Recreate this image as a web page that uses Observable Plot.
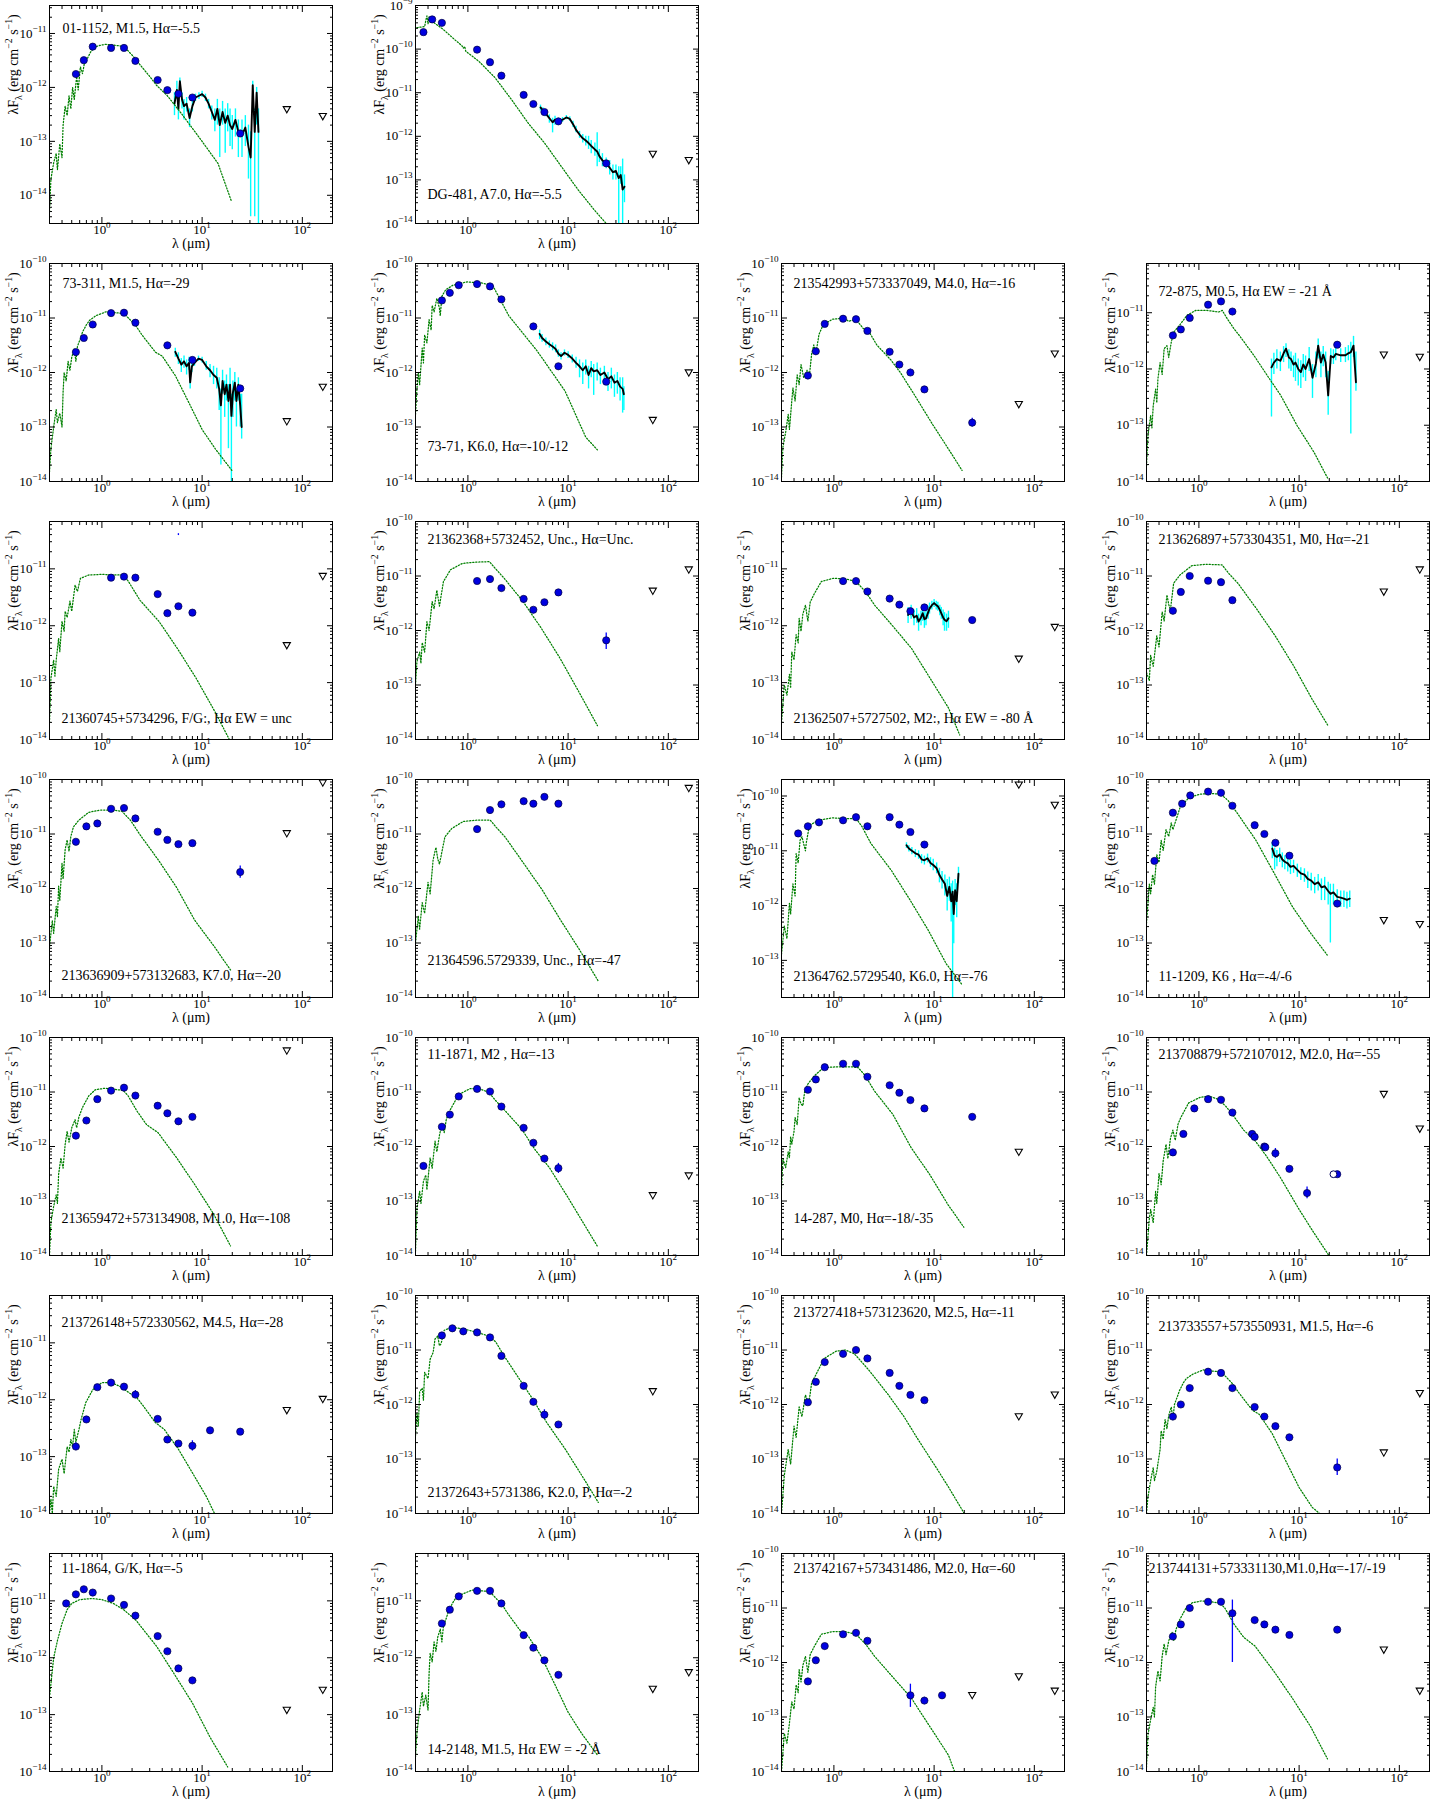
<!DOCTYPE html>
<html><head><meta charset="utf-8">
<script src="https://cdn.jsdelivr.net/npm/d3@7"></script>
<script src="https://cdn.jsdelivr.net/npm/@observablehq/plot@0.6"></script>
<style>
html,body{margin:0;padding:0;background:#fff}
body{width:1448px;height:1809px;position:relative;overflow:hidden}
</style></head><body>
<script>
// ---------------- DATA ----------------
const panelLabels = [
 "01-1152, M1.5, Hα=-5.5","DG-481, A7.0, Hα=-5.5",
 "73-311, M1.5, Hα=-29","73-71, K6.0, Hα=-10/-12","213542993+573337049, M4.0, Hα=-16","72-875, M0.5, Hα EW = -21 Å",
 "21360745+5734296, F/G:, Hα EW = unc","21362368+5732452, Unc., Hα=Unc.","21362507+5727502, M2:, Hα EW = -80 Å","213626897+573304351, M0, Hα=-21",
 "213636909+573132683, K7.0, Hα=-20","21364596.5729339, Unc., Hα=-47","21364762.5729540, K6.0, Hα=-76","11-1209, K6 , Hα=-4/-6",
 "213659472+573134908, M1.0, Hα=-108","11-1871, M2 , Hα=-13","14-287, M0, Hα=-18/-35","213708879+572107012, M2.0, Hα=-55",
 "213726148+572330562, M4.5, Hα=-28","21372643+5731386, K2.0, P, Hα=-2","213727418+573123620, M2.5, Hα=-11","213733557+573550931, M1.5, Hα=-6",
 "11-1864, G/K, Hα=-5","14-2148, M1.5, Hα EW = -2 Å","213742167+573431486, M2.0, Hα=-60","213744131+573331130,M1.0,Hα=-17/-19"
];
const yDomains = [
 [3e-15,3.3e-11],[1e-14,1e-9],
 [1e-14,1e-10],[1e-14,1e-10],[1e-14,1e-10],[1e-14,7.5e-11],
 [1e-14,6.8e-11],[1e-14,1e-10],[1e-14,6.8e-11],[1e-14,1e-10],
 [1e-14,1e-10],[1e-14,1e-10],[2.1e-14,2.0e-10],[1e-14,1e-10],
 [1e-14,1e-10],[1e-14,1e-10],[1e-14,1e-10],[1e-14,1e-10],
 [1e-14,6.8e-11],[1e-14,1e-10],[1e-14,1e-10],[1e-14,1e-10],
 [1e-14,6.8e-11],[1e-14,6.8e-11],[1e-14,1e-10],[1e-14,1e-10]
];
const xTicksMajor = [1, 10, 100];
const xDomain = [0.3, 200];

// photometry: [lambda (um), lambda*F_lambda]
const photometry = [
 [[0.55,1.77e-12],[0.66,3.2e-12],[0.81,5.7e-12],[1.235,5.4e-12],[1.662,5.4e-12],[2.159,3.1e-12],[3.6,1.37e-12],[4.5,8.9e-13],[5.8,7.6e-13],[8.0,6.5e-13],[24,1.4e-13]],
 [[0.36,2.45e-10],[0.44,4.8e-10],[0.55,4e-10],[1.235,9.7e-11],[1.662,5e-11],[2.159,2.46e-11],[3.6,8.9e-12],[4.5,5.5e-12],[5.8,3.6e-12],[8.0,2.2e-12],[24,2.4e-13]],
 [[0.55,2.37e-12],[0.66,4.3e-12],[0.81,7.6e-12],[1.235,1.23e-11],[1.662,1.25e-11],[2.159,8.2e-12],[4.5,3.15e-12],[8.0,1.7e-12],[24,5.1e-13]],
 [[0.55,2.1e-11],[0.66,2.9e-11],[0.81,4.0e-11],[1.235,4.2e-11],[1.662,3.8e-11],[2.159,2.2e-11],[4.5,7e-12],[8.0,1.3e-12],[24,6.8e-13]],
 [[0.55,8.8e-13],[0.66,2.45e-12],[0.81,7.8e-12],[1.235,9.7e-12],[1.662,9.5e-12],[2.159,5.8e-12],[3.6,2.4e-12],[4.5,1.4e-12],[5.8,1e-12],[8.0,4.9e-13],[24,1.2e-13]],
 [[0.55,3.95e-12],[0.66,5.05e-12],[0.81,8.1e-12],[1.235,1.39e-11],[1.662,1.59e-11],[2.159,1.05e-11],[24,2.7e-12]],
 [[1.235,7.0e-12],[1.662,7.3e-12],[2.159,7.0e-12],[3.6,3.6e-12],[4.5,1.66e-12],[5.8,2.2e-12],[8.0,1.7e-12]],
 [[1.235,8.1e-12],[1.662,8.8e-12],[2.159,6e-12],[3.6,3.8e-12],[4.5,2.4e-12],[5.8,3.3e-12],[8.0,5e-12],[24,6.6e-13]],
 [[1.235,6.1e-12],[1.662,6.1e-12],[2.159,4.0e-12],[3.6,3.0e-12],[4.5,2.35e-12],[5.8,1.8e-12],[8.0,2.1e-12],[24,1.26e-12]],
 [[0.55,2.3e-12],[0.66,5.1e-12],[0.81,1e-11],[1.235,8.2e-12],[1.662,7.7e-12],[2.159,3.6e-12]],
 [[0.55,7.2e-12],[0.70,1.38e-11],[0.90,1.56e-11],[1.235,2.9e-11],[1.662,3.0e-11],[2.159,1.93e-11],[3.6,1.1e-11],[4.5,7.8e-12],[5.8,6.5e-12],[8.0,6.8e-12],[24,2.0e-12]],
 [[1.235,1.23e-11],[1.662,2.75e-11],[2.159,3.5e-11],[3.6,4.0e-11],[4.5,3.6e-11],[5.8,4.8e-11],[8.0,3.6e-11]],
 [[0.44,2.07e-11],[0.55,2.8e-11],[0.71,3.3e-11],[1.235,3.6e-11],[1.662,4.1e-11],[2.159,2.8e-11],[3.6,4.1e-11],[4.5,3e-11],[5.8,2.2e-11],[8.0,1.3e-11]],
 [[0.36,3.2e-12],[0.55,2.46e-11],[0.68,3.6e-11],[0.82,5.1e-11],[1.235,6.0e-11],[1.662,5.7e-11],[2.159,3.3e-11],[3.6,1.45e-11],[4.5,1.0e-11],[5.8,6.9e-12],[8.0,4e-12],[24,5.3e-13]],
 [[0.55,1.58e-12],[0.70,3.0e-12],[0.90,7.4e-12],[1.235,1.06e-11],[1.662,1.2e-11],[2.159,8.6e-12],[3.6,5.6e-12],[4.5,4.07e-12],[5.8,2.9e-12],[8.0,3.5e-12]],
 [[0.36,4.4e-13],[0.55,2.3e-12],[0.66,3.85e-12],[0.81,8.3e-12],[1.235,1.14e-11],[1.662,1.02e-11],[2.159,5.4e-12],[3.6,2.2e-12],[4.5,1.17e-12],[5.8,6e-13],[8.0,4e-13]],
 [[0.55,1.1e-11],[0.66,1.7e-11],[0.81,2.85e-11],[1.235,3.3e-11],[1.662,3.3e-11],[2.159,1.9e-11],[3.6,1.33e-11],[4.5,9.7e-12],[5.8,7.1e-12],[8.0,5.0e-12],[24,3.5e-12]],
 [[0.55,7.8e-13],[0.70,1.7e-12],[0.90,5e-12],[1.235,7.4e-12],[1.662,7.2e-12],[2.159,4.2e-12],[3.4,1.7e-12],[3.6,1.5e-12],[4.5,1e-12],[4.6,9.7e-13],[5.8,7.5e-13],[8.0,3.9e-13],[12,1.4e-13],[24,3.1e-13]],
 [[0.55,1.5e-13],[0.70,4.5e-13],[0.90,1.66e-12],[1.235,2.0e-12],[1.662,1.7e-12],[2.159,1.23e-12],[3.6,4.6e-13],[4.5,2e-13],[5.8,1.7e-13],[8.0,1.55e-13],[12,2.9e-13],[24,2.75e-13]],
 [[0.55,1.85e-11],[0.70,2.5e-11],[0.90,2.2e-11],[1.235,2.1e-11],[1.662,1.7e-11],[2.159,7.8e-12],[3.6,2.2e-12],[4.5,1.12e-12],[5.8,6.5e-13],[8.0,4.3e-13]],
 [[0.55,1.1e-12],[0.66,2.6e-12],[0.81,6e-12],[1.235,8.5e-12],[1.662,1e-11],[2.159,7e-12],[3.6,3.8e-12],[4.5,2.2e-12],[5.8,1.5e-12],[8.0,1.2e-12]],
 [[0.55,6e-13],[0.66,1e-12],[0.81,2e-12],[1.235,4e-12],[1.662,3.8e-12],[2.159,2e-12],[3.6,9e-13],[4.5,6e-13],[5.8,4e-13],[8.0,2.5e-13],[24,7e-14]],
 [[0.44,9e-12],[0.55,1.3e-11],[0.66,1.6e-11],[0.81,1.4e-11],[1.235,1.1e-11],[1.662,8.5e-12],[2.159,5.5e-12],[3.6,2.4e-12],[4.5,1.3e-12],[5.8,6.5e-13],[8.0,4e-13]],
 [[0.55,4e-12],[0.66,7e-12],[0.81,1.2e-11],[1.235,1.5e-11],[1.662,1.5e-11],[2.159,9e-12],[3.6,2.5e-12],[4.5,1.5e-12],[5.8,9e-13],[8.0,5e-13]],
 [[0.55,4.5e-13],[0.66,1.1e-12],[0.81,2e-12],[1.235,3.3e-12],[1.662,3.5e-12],[2.159,2.5e-12],[5.8,2.5e-13],[8.0,2e-13],[12,2.5e-13]],
 [[0.55,3e-12],[0.66,5e-12],[0.81,1e-11],[1.235,1.3e-11],[1.662,1.3e-11],[2.159,8e-12],[3.6,6e-12],[4.5,5e-12],[5.8,4e-12],[8.0,3.2e-12],[24,4e-12]]
];
// photometric error bars: [lambda, low, high]
const photErrors = [
 [],[],[],[],[[5.8,8.6e-13,1.15e-12],[24,1.0e-13,1.45e-13]],[],
 [[5.8,3.85e-11,4.15e-11]],[[24,4.5e-13,9e-13]],[],[],
 [[24,1.55e-12,2.6e-12]],[],[],[],
 [],[[8.0,3.2e-13,4.9e-13]],[],[[5.8,6.1e-13,9.2e-13],[12,1.1e-13,1.8e-13],[24,2.8e-13,3.4e-13]],
 [[0.55,1.3e-13,1.75e-13],[1.662,1.55e-12,1.85e-12],[2.159,1.05e-12,1.45e-12],[8.0,1.25e-13,1.9e-13]],[[5.8,5.3e-13,8e-13]],[],[[24,5e-14,1e-13]],
 [],[],[[5.8,1.5e-13,4e-13],[8.0,1.7e-13,2.3e-13]],[[2.159,1e-12,1.4e-11]]
];
// open symbols: [lambda, flux]
const openPoints = [
 [],[],[],[],[],[],[],[],[],[],[],[],[],[],[],[],[],[[22,3.1e-13]],[],[],[],[],[],[],[],[]
];
// upper limits (downward triangles): [lambda, flux]
const upperLimits = [
 [[70,3.9e-13],[160,2.9e-13]],[[70,3.9e-13],[160,2.8e-13]],
 [[70,1.26e-13],[160,5.4e-13]],[[70,1.33e-13],[160,9.9e-13]],[[70,2.6e-13],[160,2.2e-12]],[[70,1.78e-12],[160,1.62e-12]],
 [[70,4.5e-13],[160,7.4e-12]],[[70,5.3e-12],[160,1.3e-11]],[[70,2.6e-13],[160,9.4e-13]],[[70,5.1e-12],[160,1.3e-11]],
 [[70,1.02e-11],[160,8.7e-11]],[[160,6.9e-11]],[[70,1.6e-10],[160,6.8e-11]],[[70,2.6e-13],[160,2.2e-13]],
 [[70,5.7e-11]],[[70,1.26e-13],[160,2.9e-13]],[[70,7.9e-13]],[[70,9.1e-12],[160,2.1e-12]],
 [[70,6.5e-13],[160,1.02e-12]],[[70,1.73e-12]],[[70,6e-13],[160,1.5e-12]],[[70,1.3e-13],[160,1.6e-12]],
 [[70,1.2e-13],[160,2.7e-13]],[[70,2.8e-13],[160,5.5e-13]],[[24,2.5e-13],[70,5.5e-13],[160,3e-13]],[[70,1.7e-12],[160,3e-13]]
];
// photosphere models: [lambda, flux]
const models = [
 [[0.30,5e-15],[0.31,2e-14],[0.33,4e-14],[0.35,6e-14],[0.36,3e-14],[0.38,9e-14],[0.40,5e-14],[0.41,2e-13],[0.43,4.5e-13],[0.45,3e-13],[0.47,7e-13],[0.49,4e-13],[0.51,1e-12],[0.53,6e-13],[0.56,1.6e-12],[0.58,9e-13],[0.61,2.4e-12],[0.64,1.8e-12],[0.68,3.3e-12],[0.72,3.5e-12],[0.77,4.5e-12],[0.85,5.6e-12],[0.95,6.0e-12],[1.1,6.3e-12],[1.3,6.1e-12],[1.5,5.9e-12],[1.7,5.5e-12],[1.9,4.4e-12],[2.1,3.6e-12],[2.5,2.4e-12],[3.0,1.6e-12],[3.5,1.1e-12],[4.5,7e-13],[6.2,3.3e-13],[9.8,1.05e-13],[14.4,3.9e-14],[19.5,8e-15]],
 [[0.31,3.1e-10],[0.37,3.3e-10],[0.38,4.5e-10],[0.39,5.8e-10],[0.40,3.8e-10],[0.41,5.5e-10],[0.42,4.7e-10],[0.46,4e-10],[0.57,2.8e-10],[0.75,1.6e-10],[0.87,1.2e-10],[0.9,1.05e-10],[0.93,1.15e-10],[0.95,9e-11],[1.28,5.3e-11],[1.87,2.2e-11],[2.73,6.9e-12],[4.0,2e-12],[5.85,6.9e-13],[8.6,2e-13],[12.6,5.9e-14],[18.4,2e-14],[24,1e-14]],
 [[0.30,1.5e-14],[0.31,4e-14],[0.33,1e-13],[0.35,2.1e-13],[0.36,1.2e-13],[0.38,1.8e-13],[0.40,1e-13],[0.41,4.4e-13],[0.42,1e-12],[0.44,7e-13],[0.46,1.6e-12],[0.48,1.1e-12],[0.50,1.9e-12],[0.53,2.7e-12],[0.55,1.6e-12],[0.57,3e-12],[0.61,4.2e-12],[0.64,5.5e-12],[0.7,7.5e-12],[0.75,9e-12],[0.87,1.1e-11],[1.1,1.3e-11],[1.38,1.25e-11],[1.66,1.2e-11],[1.87,9.7e-12],[2.17,7.3e-12],[2.53,4.8e-12],[3.43,2.35e-12],[4.0,2e-12],[5.4,8.8e-13],[7.37,2.8e-13],[10,9e-14],[13.5,4e-14],[19.8,1.6e-14]],
 [[0.30,1.7e-13],[0.31,5e-13],[0.32,1e-12],[0.33,6e-13],[0.35,2.8e-12],[0.36,1.5e-12],[0.37,4.9e-12],[0.39,3.5e-12],[0.41,9.3e-12],[0.43,6e-12],[0.44,1.7e-11],[0.46,1.3e-11],[0.49,2.3e-11],[0.52,1.5e-11],[0.53,1.1e-11],[0.55,2.5e-11],[0.6,3.3e-11],[0.71,4.0e-11],[0.98,4.6e-11],[1.35,4.4e-11],[1.76,4.0e-11],[2.07,2.3e-11],[2.56,1.1e-11],[4.9,2.5e-12],[9.3,4.6e-13],[15,6.5e-14],[19.6,3.8e-14]],
 [[0.30,1.2e-14],[0.31,4.3e-14],[0.33,8e-14],[0.35,1.7e-13],[0.36,9e-14],[0.38,3e-13],[0.39,5.2e-13],[0.41,3e-13],[0.43,9e-13],[0.45,6e-13],[0.47,1.4e-12],[0.50,8e-13],[0.54,1.1e-12],[0.57,9e-13],[0.60,2.2e-12],[0.63,3.2e-12],[0.66,2.2e-12],[0.71,5e-12],[0.78,7.5e-12],[0.97,9.5e-12],[1.27,1e-11],[1.4,8.7e-12],[1.66,9.5e-12],[1.95,6.5e-12],[2.28,5.3e-12],[2.68,3.2e-12],[3.7,1.7e-12],[4.6,1e-12],[6.3,4e-13],[9.7,1.1e-13],[13.5,4.3e-14],[19,1.6e-14]],
 [[0.30,1.9e-14],[0.31,6.5e-14],[0.33,1.5e-13],[0.34,9e-14],[0.35,2.2e-13],[0.37,4.4e-13],[0.38,2.5e-13],[0.39,6.7e-13],[0.41,1.3e-12],[0.43,8e-13],[0.45,2.3e-12],[0.48,2.6e-12],[0.5,1.6e-12],[0.53,3e-12],[0.56,4.5e-12],[0.66,6.4e-12],[0.76,9e-12],[0.93,1.1e-11],[1.21,1.1e-11],[1.58,1.03e-11],[1.71,1.1e-11],[1.92,7.8e-12],[2.24,5.2e-12],[2.6,3.7e-12],[3.55,1.73e-12],[4.82,7.6e-13],[6.55,3.4e-13],[9.6,9.7e-14],[14.1,3.3e-14],[19.5,1.1e-14]],
 [[0.30,2e-14],[0.31,1.2e-13],[0.33,2.5e-13],[0.34,1.3e-13],[0.35,2.5e-13],[0.37,6e-13],[0.38,3.5e-13],[0.40,1.2e-12],[0.42,8e-13],[0.43,1.8e-12],[0.45,1.4e-12],[0.48,2.7e-12],[0.50,1.8e-12],[0.54,5.2e-12],[0.57,4e-12],[0.61,6.8e-12],[0.74,7.8e-12],[1.02,8e-12],[1.33,7.8e-12],[1.65,7.8e-12],[1.84,6e-12],[2.4,2.8e-12],[3.7,1.2e-12],[5.66,4e-13],[8.7,1.2e-13],[13.4,3.1e-14],[18.7,1e-14]],
 [[0.30,1e-13],[0.31,2.7e-13],[0.33,4e-13],[0.34,2.5e-13],[0.35,6e-13],[0.37,4e-13],[0.39,1.45e-12],[0.41,1e-12],[0.44,3.4e-12],[0.46,2.5e-12],[0.49,5.5e-12],[0.51,3.5e-12],[0.52,2.8e-12],[0.57,7.9e-12],[0.67,1.3e-11],[0.88,1.7e-11],[1.2,1.8e-11],[1.64,1.83e-11],[1.86,1.4e-11],[2.3,9.1e-12],[3.55,3.4e-12],[5.4,1.1e-12],[8.3,3.1e-13],[12.8,7.5e-14],[19.6,1.8e-14]],
 [[0.30,2e-14],[0.32,9.1e-14],[0.34,6e-14],[0.36,1.4e-13],[0.37,8e-14],[0.38,3.5e-13],[0.40,2.5e-13],[0.42,7e-13],[0.44,5e-13],[0.45,1.35e-12],[0.47,8e-13],[0.49,1.6e-12],[0.52,2.3e-12],[0.55,1.2e-12],[0.58,2.6e-12],[0.64,3.7e-12],[0.75,6e-12],[0.98,6.8e-12],[1.28,6.7e-12],[1.66,6e-12],[2.06,4e-12],[2.55,2.3e-12],[3.9,9.7e-13],[5.95,4e-13],[9.1,1.2e-13],[13.9,3.6e-14],[18,1.2e-14]],
 [[0.30,1.7e-13],[0.32,1.2e-13],[0.33,3.5e-13],[0.35,2.2e-13],[0.38,8e-13],[0.40,5e-13],[0.43,2.2e-12],[0.45,1.5e-12],[0.48,4.5e-12],[0.5,3e-12],[0.52,2.4e-12],[0.56,7.4e-12],[0.65,1.05e-11],[0.85,1.55e-11],[1.17,1.64e-11],[1.7,1.6e-11],[2.0,1.1e-11],[2.46,7.3e-12],[3.76,2.5e-12],[5.74,8.1e-13],[8.75,2.3e-13],[13.4,5.6e-14],[19.4,1.8e-14]],
 [[0.30,8.5e-14],[0.32,2.6e-13],[0.33,1.5e-13],[0.35,4.7e-13],[0.36,3e-13],[0.37,1.1e-12],[0.38,6e-13],[0.40,2.9e-12],[0.41,1.5e-12],[0.43,5.2e-12],[0.45,7.8e-12],[0.47,4.8e-12],[0.49,9e-12],[0.52,1.35e-11],[0.59,1.8e-11],[0.74,2.5e-11],[0.96,2.75e-11],[1.32,2.75e-11],[1.59,2.6e-11],[1.92,1.8e-11],[2.37,1e-11],[3.63,3.4e-12],[5.57,1.04e-12],[8.45,2.6e-13],[13,9e-14],[19.2,3.2e-14]],
 [[0.30,1e-13],[0.32,3.1e-13],[0.33,1.8e-13],[0.35,5.5e-13],[0.37,3.5e-13],[0.40,1.3e-12],[0.42,8e-13],[0.45,3.4e-12],[0.48,5.7e-12],[0.50,3.5e-12],[0.52,2.8e-12],[0.59,8.9e-12],[0.69,1.26e-11],[0.9,1.7e-11],[1.24,1.8e-11],[1.67,1.8e-11],[1.9,1.35e-11],[2.35,8.8e-12],[3.6,2.9e-12],[5.5,9.5e-13],[8.45,2.6e-13],[13,7.5e-14],[20,2e-14]],
 [[0.30,1.3e-13],[0.32,4.2e-13],[0.34,2.5e-13],[0.36,1.1e-12],[0.37,7e-13],[0.39,2.5e-12],[0.41,1.5e-12],[0.42,8.9e-12],[0.44,6e-12],[0.46,1.57e-11],[0.48,1.8e-11],[0.52,1e-11],[0.53,1.4e-11],[0.57,2.9e-11],[0.70,3.6e-11],[0.96,4e-11],[1.32,3.85e-11],[1.66,3.9e-11],[1.9,2.8e-11],[2.34,1.36e-11],[3.74,4.4e-12],[5.76,1.26e-12],[8.7,3.6e-13],[13.2,8.7e-14],[19.2,3.5e-14]],
 [[0.30,2.3e-13],[0.32,1.2e-12],[0.33,8e-13],[0.345,1.8e-12],[0.36,1.2e-12],[0.38,4.2e-12],[0.40,3e-12],[0.42,7.6e-12],[0.44,5e-12],[0.47,1.2e-11],[0.50,9e-12],[0.53,1.6e-11],[0.55,1.2e-11],[0.65,3.1e-11],[0.80,4.7e-11],[1.04,5.4e-11],[1.43,5.5e-11],[1.67,5.3e-11],[1.96,4.1e-11],[2.42,2.4e-11],[3.7,7.7e-12],[5.65,1.9e-12],[8.6,4.6e-13],[13.1,1.5e-13],[19.1,6e-14]],
 [[0.30,1e-14],[0.31,4.1e-14],[0.33,8e-14],[0.35,1.3e-13],[0.36,9e-14],[0.37,3.1e-13],[0.39,6.2e-13],[0.41,4e-13],[0.43,1.1e-12],[0.45,1.9e-12],[0.47,1.2e-12],[0.50,2.2e-12],[0.54,3.1e-12],[0.56,2.2e-12],[0.59,3.5e-12],[0.64,5.2e-12],[0.74,8.5e-12],[0.86,1.1e-11],[1.07,1.17e-11],[1.32,1.12e-11],[1.63,1.07e-11],[1.82,8.6e-12],[2.25,4.4e-12],[2.8,2.5e-12],[3.63,1.8e-12],[5.57,6.2e-13],[8.45,2e-13],[13,5.8e-14],[19.2,1.5e-14]],
 [[0.30,1.2e-14],[0.31,7.2e-14],[0.33,1.5e-13],[0.34,9e-14],[0.36,2.3e-13],[0.38,3e-13],[0.39,1.6e-13],[0.42,6.2e-13],[0.44,4e-13],[0.47,1.25e-12],[0.49,8e-13],[0.52,1.6e-12],[0.55,2.6e-12],[0.58,1.8e-12],[0.61,3.2e-12],[0.67,4.8e-12],[0.81,9e-12],[1.05,1.15e-11],[1.3,1.15e-11],[1.62,9.8e-12],[1.9,6.9e-12],[2.36,4.5e-12],[3.43,2.1e-12],[4.73,8.5e-13],[6.5,4.1e-13],[10,1.15e-13],[13.8,4.3e-14],[19.5,1.5e-14]],
 [[0.30,1.7e-13],[0.31,6e-13],[0.33,4.1e-13],[0.35,8e-13],[0.36,6.2e-13],[0.37,1.5e-12],[0.38,1.1e-12],[0.40,1.9e-12],[0.41,3.4e-12],[0.43,2.5e-12],[0.45,7.9e-12],[0.47,6e-12],[0.49,5.6e-12],[0.51,1e-11],[0.55,1.4e-11],[0.64,2e-11],[0.79,2.8e-11],[1.09,2.9e-11],[1.5,2.9e-11],[1.75,2.8e-11],[2.05,2e-11],[2.54,1.04e-11],[3.87,3.9e-12],[5.9,9.5e-13],[9.0,3.1e-13],[13.8,8.5e-14],[19.8,3.3e-14]],
 [[0.30,1e-14],[0.32,4.7e-14],[0.33,7e-14],[0.35,4e-14],[0.37,1.5e-13],[0.38,9e-14],[0.40,3.2e-13],[0.42,2e-13],[0.44,5.4e-13],[0.47,1.1e-12],[0.49,6e-13],[0.52,1.4e-12],[0.55,2e-12],[0.58,1.3e-12],[0.62,2.6e-12],[0.66,3.4e-12],[0.79,6.3e-12],[1.03,8e-12],[1.27,8.4e-12],[1.57,7.3e-12],[1.85,5.5e-12],[2.16,3.9e-12],[2.8,2e-12],[3.67,1.25e-12],[4.76,6.5e-13],[6.5,2.7e-13],[10,7e-14],[13.7,2.8e-14],[19.8,1e-14]],
 [[0.30,1e-14],[0.31,1.8e-14],[0.32,1e-14],[0.33,3e-14],[0.35,2e-14],[0.37,6e-14],[0.40,9e-14],[0.42,5e-14],[0.45,1.5e-13],[0.47,1.2e-13],[0.49,2e-13],[0.51,1.5e-13],[0.53,3e-13],[0.55,1.8e-13],[0.59,3e-13],[0.62,4.5e-13],[0.69,8.9e-13],[0.81,1.5e-12],[1.0,2e-12],[1.24,2.0e-12],[1.53,1.7e-12],[1.9,1.3e-12],[2.22,1.1e-12],[2.6,7.7e-13],[3.4,4e-13],[4.2,3e-13],[5.8,1.35e-13],[8.0,5.2e-14],[11,2e-14],[13.3,1e-14]],
 [[0.30,2.7e-13],[0.31,7e-13],[0.32,4e-13],[0.33,1.7e-12],[0.35,2e-12],[0.36,1.2e-12],[0.37,3.9e-12],[0.40,3e-12],[0.42,6.8e-12],[0.45,9e-12],[0.47,1.6e-11],[0.50,1.8e-11],[0.52,1.2e-11],[0.54,1.3e-11],[0.58,2.3e-11],[0.69,2.6e-11],[0.90,2.45e-11],[1.24,2.1e-11],[1.62,1.8e-11],[1.9,1.4e-11],[2.23,8.5e-12],[3.24,3e-12],[4.45,1.25e-12],[6.1,4.7e-13],[9.4,1.5e-13],[14.4,4.3e-14],[20,1.6e-14]],
 [[0.30,1e-14],[0.32,5e-14],[0.35,1.5e-13],[0.37,8e-14],[0.40,4e-13],[0.42,2.5e-13],[0.45,9e-13],[0.48,6e-13],[0.52,1.5e-12],[0.56,1e-12],[0.6,2.5e-12],[0.66,3.5e-12],[0.8,7e-12],[1.05,9.5e-12],[1.3,1e-11],[1.6,8.5e-12],[1.9,6e-12],[2.3,4e-12],[3.5,1.5e-12],[5,6e-13],[7,2.2e-13],[10,8e-14],[14,3e-14],[20,1e-14]],
 [[0.30,1e-14],[0.31,2e-14],[0.33,4e-14],[0.35,7e-14],[0.36,4e-14],[0.38,6e-14],[0.41,1.5e-13],[0.42,3.3e-13],[0.44,2.3e-13],[0.46,5.3e-13],[0.48,3.6e-13],[0.50,6.3e-13],[0.53,9e-13],[0.55,5.3e-13],[0.57,1e-12],[0.61,1.4e-12],[0.64,1.8e-12],[0.7,2.5e-12],[0.75,3e-12],[0.87,3.6e-12],[1.1,4.3e-12],[1.38,4.1e-12],[1.66,4e-12],[1.87,3.2e-12],[2.17,2.4e-12],[2.53,1.6e-12],[3.43,7.8e-13],[4.0,6.6e-13],[5.4,2.9e-13],[7.37,9.2e-14],[10,3e-14],[13.5,1.3e-14],[16,1e-14]],
 [[0.30,2e-13],[0.33,1e-12],[0.36,2e-12],[0.40,4e-12],[0.45,7e-12],[0.50,9e-12],[0.6,1.05e-11],[0.8,1.1e-11],[1.0,1.05e-11],[1.3,9e-12],[1.65,7e-12],[2.2,4.5e-12],[3.5,1.6e-12],[5,6e-13],[8,1.6e-13],[12,4e-14],[18,1.2e-14]],
 [[0.30,1.8e-14],[0.31,4.8e-14],[0.33,1.2e-13],[0.35,2.5e-13],[0.36,1.4e-13],[0.38,2.2e-13],[0.40,1.2e-13],[0.41,5.3e-13],[0.42,1.2e-12],[0.44,8.4e-13],[0.46,1.9e-12],[0.48,1.3e-12],[0.50,2.3e-12],[0.53,3.2e-12],[0.55,1.9e-12],[0.57,3.6e-12],[0.61,5e-12],[0.64,6.6e-12],[0.7,9e-12],[0.75,1.1e-11],[0.87,1.3e-11],[1.1,1.55e-11],[1.38,1.5e-11],[1.66,1.45e-11],[1.87,1.15e-11],[2.17,8.8e-12],[2.53,5.8e-12],[3.43,2.8e-12],[4.0,2.4e-12],[5.4,1.05e-12],[7.37,3.4e-13],[10,1.1e-13],[13.5,4.8e-14],[19.8,1.9e-14]],
 [[0.30,1e-14],[0.32,5e-14],[0.34,3.3e-14],[0.36,7.7e-14],[0.38,1.9e-13],[0.40,1.4e-13],[0.42,3.9e-13],[0.44,2.8e-13],[0.45,7.4e-13],[0.47,4.4e-13],[0.49,8.8e-13],[0.52,1.3e-12],[0.55,6.6e-13],[0.58,1.4e-12],[0.64,2e-12],[0.75,3.3e-12],[0.98,3.7e-12],[1.28,3.7e-12],[1.66,3.3e-12],[2.06,2.2e-12],[2.55,1.3e-12],[3.9,5.3e-13],[5.95,2.2e-13],[9.1,6.6e-14],[13.9,2e-14],[16,1e-14]],
 [[0.30,1.2e-14],[0.31,4.7e-14],[0.33,9e-14],[0.35,1.5e-13],[0.36,1e-13],[0.37,3.6e-13],[0.39,7e-13],[0.41,4.6e-13],[0.43,1.3e-12],[0.45,2.2e-12],[0.47,1.4e-12],[0.50,2.5e-12],[0.54,3.6e-12],[0.56,2.5e-12],[0.59,4e-12],[0.64,6e-12],[0.74,9.8e-12],[0.86,1.25e-11],[1.07,1.35e-11],[1.32,1.3e-11],[1.63,1.23e-11],[1.82,9.9e-12],[2.25,5e-12],[2.8,2.9e-12],[3.63,2e-12],[5.57,7e-13],[8.45,2.3e-13],[13,6.7e-14],[19.2,1.7e-14]]
];
// IRS spectra: [lambda, flux, low, high]
const spectra = [
 [[5.3,5e-13,3e-13,8e-13],[5.6,9e-13,6e-13,1.3e-12],[5.8,4e-13,2.5e-13,6e-13],[6.0,1.3e-12,9e-13,1.5e-12],[6.3,6e-13,4e-13,8e-13],[6.6,4.5e-13,2.5e-13,6e-13],[7.0,5e-13,3.5e-13,6.5e-13],[7.5,2.7e-13,1.8e-13,4e-13],[8.0,4.5e-13,3.5e-13,5.5e-13],[8.6,6.5e-13,5.5e-13,7.5e-13],[9.3,7e-13,6e-13,8e-13],[10.0,7.5e-13,6.5e-13,8.5e-13],[10.8,6.5e-13,5.5e-13,7.5e-13],[11.6,5e-13,4e-13,6e-13],[12.5,3.5e-13,2.5e-13,4.5e-13],[13.4,2.5e-13,1.5e-13,4e-13],[14.2,4e-13,2e-13,6e-13],[15.0,2e-13,5e-14,4e-13],[16.0,3.5e-13,2e-13,5.5e-13],[17.0,2.2e-13,6e-14,4e-13],[18.0,3e-13,1.5e-13,5e-13],[19.0,2e-13,8e-14,4e-13],[20.0,1.7e-13,7e-14,3e-13],[21.5,2.5e-13,1.2e-13,4e-13],[23.0,1.5e-13,5e-14,2.5e-13],[25.0,1.3e-13,5e-14,2.5e-13],[27.0,1.8e-13,8e-14,3e-13],[29.0,8e-14,2e-14,2e-13],[30.5,5e-14,4e-15,1.5e-13],[32.0,1.1e-12,4e-13,1.3e-12],[33.5,1.5e-13,4e-15,4e-13],[35.0,8e-13,2e-13,1e-12],[36.5,1.5e-13,3e-15,4e-13]],
 [[5.3,4.6e-12,3.8e-12,5.2e-12],[5.6,3.9e-12,3.3e-12,4.5e-12],[6.0,3.3e-12,2.8e-12,3.8e-12],[6.5,2.6e-12,2e-12,3.1e-12],[7.0,2.1e-12,1.2e-12,2.6e-12],[7.4,2.4e-12,1.8e-12,2.9e-12],[8.0,2.2e-12,1.8e-12,2.6e-12],[8.8,2.4e-12,2.1e-12,2.7e-12],[9.6,2.7e-12,2.4e-12,3e-12],[10.4,2.5e-12,2.2e-12,2.8e-12],[11.2,1.9e-12,1.6e-12,2.2e-12],[12.0,1.4e-12,1.2e-12,1.7e-12],[13.0,1.1e-12,9e-13,1.3e-12],[14.0,9e-13,7e-13,1.1e-12],[15.0,8e-13,6e-13,1e-12],[16.0,7e-13,5e-13,1e-12],[17.0,6e-13,4e-13,8e-13],[18.5,5e-13,3.5e-13,7e-13],[19.5,4.5e-13,2e-13,1.2e-12],[20.5,3.5e-13,2.5e-13,5e-13],[22,2.8e-13,2e-13,4e-13],[24,2.4e-13,1.8e-13,3.2e-13],[26,1.9e-13,1.3e-13,2.8e-13],[28,1.5e-13,1e-13,2.2e-13],[30,1.6e-13,1e-13,2.2e-13],[32,1.1e-13,1e-14,2e-13],[33.5,1.3e-13,8e-14,2e-13],[35,6e-14,1e-14,3e-13],[36.5,7e-14,3e-14,1.3e-13]],
 [[5.4,2.4e-12,1.9e-12,2.8e-12],[5.8,1.8e-12,1.4e-12,2.3e-12],[6.2,1.4e-12,1e-12,1.8e-12],[6.6,1.6e-12,1.2e-12,2e-12],[7.0,1.3e-12,9e-13,1.7e-12],[7.4,1.5e-12,1.1e-12,1.9e-12],[7.6,6.6e-13,5e-13,1e-12],[7.9,1.3e-12,1e-12,1.6e-12],[8.4,1.5e-12,1.3e-12,1.7e-12],[9.2,1.8e-12,1.6e-12,2e-12],[10,1.7e-12,1.5e-12,1.9e-12],[11,1.3e-12,1.1e-12,1.6e-12],[12,1.1e-12,8e-13,1.4e-12],[13,9e-13,6e-13,1.3e-12],[14,8e-13,5e-13,1.2e-12],[14.8,5e-13,2e-13,8e-13],[15.4,2.5e-13,2e-14,5e-13],[16,7e-13,4e-13,1.1e-12],[16.8,4e-13,1.5e-13,7e-13],[17.5,6e-13,3e-13,9e-13],[18.3,3e-13,4e-14,6e-13],[19,6e-13,3e-13,1.2e-12],[19.6,1.6e-13,1e-14,4e-13],[20.3,4.3e-13,1.5e-13,7e-13],[21.2,6.5e-13,3e-13,1e-12],[22,3e-13,1e-13,5e-13],[23,6e-13,3e-13,8e-13],[24,2.5e-13,1e-13,4e-13],[24.8,1e-13,6e-14,4e-13]],
 [[5.2,5.1e-12,4e-12,6e-12],[5.5,4.3e-12,3.6e-12,5e-12],[6.0,3.7e-12,3.1e-12,4.3e-12],[6.5,3.3e-12,2.8e-12,3.8e-12],[7.0,3e-12,2.5e-12,3.5e-12],[7.5,2.7e-12,2.3e-12,3.2e-12],[8.0,2.2e-12,1.9e-12,2.6e-12],[8.5,2e-12,1.7e-12,2.3e-12],[9.2,2.3e-12,2e-12,2.6e-12],[10,2.1e-12,1.8e-12,2.4e-12],[11,1.8e-12,1.5e-12,2.1e-12],[12,1.5e-12,1.2e-12,1.9e-12],[13,1.3e-12,8e-13,1.7e-12],[14,1.1e-12,6e-13,1.5e-12],[15,1.3e-12,9e-13,1.7e-12],[16,9e-13,5e-13,1.3e-12],[17,1.2e-12,8e-13,1.6e-12],[18,1.05e-12,3.8e-13,1.4e-12],[19.5,1.1e-12,7e-13,1.5e-12],[21,9e-13,6e-13,1.2e-12],[23,1e-12,6e-13,1.3e-12],[25,7.5e-13,4.5e-13,1e-12],[27,8.5e-13,5e-13,1.2e-12],[29,6.5e-13,3.5e-13,9e-13],[31,7e-13,4e-13,1e-12],[33,5.5e-13,3e-13,8e-13],[35,5e-13,1.8e-13,8e-13],[36,4e-13,2e-13,5.5e-13]],
 [],
 [[5.3,1.07e-12,1.4e-13,1.5e-12],[5.6,1.3e-12,8e-13,1.9e-12],[6.0,1.5e-12,1e-12,2.2e-12],[6.5,1.4e-12,9e-13,2e-12],[7.0,1.9e-12,1.3e-12,2.5e-12],[7.4,2.3e-12,1.6e-12,2.8e-12],[7.9,1.6e-12,1e-12,2.2e-12],[8.3,1.5e-12,9e-13,2e-12],[8.8,1.2e-12,7e-13,1.7e-12],[9.2,1.3e-12,6e-13,1.9e-12],[9.8,1e-12,5e-13,1.5e-12],[10.4,8.8e-13,4.5e-13,1.4e-12],[11,1.2e-12,7e-13,1.8e-12],[11.6,1e-12,6e-13,1.7e-12],[12.6,1.5e-12,9e-13,2.4e-12],[13.6,7e-13,3e-13,1.2e-12],[14.7,1.24e-12,7e-13,2e-12],[15.5,2.6e-12,1.5e-12,3.4e-12],[16.5,1.3e-12,7e-13,2e-12],[17.4,1.8e-12,1.1e-12,2.5e-12],[18.4,1.3e-12,7e-13,2e-12],[19.5,3.4e-13,1.5e-13,9e-13],[20.7,1.7e-12,1.2e-12,2.3e-12],[22,1.6e-12,1.2e-12,2.2e-12],[23.2,1.85e-12,1.4e-12,2.4e-12],[26,1.75e-12,1.3e-12,2.3e-12],[29,1.75e-12,1.3e-12,2.4e-12],[31,1.9e-12,1.4e-12,2.6e-12],[32.8,2e-12,7e-14,3e-12],[34.9,2.6e-12,1.6e-12,3.8e-12],[36.9,5.8e-13,4e-13,2e-12]],
 [],[],
 [[5.5,1.55e-12,1.1e-12,2.1e-12],[5.9,1.8e-12,1.3e-12,2.3e-12],[6.3,1.4e-12,1e-12,1.9e-12],[6.7,1.5e-12,1.1e-12,2e-12],[7.0,1.18e-12,8e-13,1.6e-12],[7.4,1.4e-12,1e-12,1.8e-12],[7.7,1.66e-12,1.2e-12,2.1e-12],[8.0,1.3e-12,9e-13,1.7e-12],[8.3,1.35e-12,1e-12,1.8e-12],[8.7,1.7e-12,1.3e-12,2.2e-12],[9.0,2e-12,1.6e-12,2.5e-12],[9.5,2.3e-12,1.9e-12,2.7e-12],[10,2.5e-12,2.1e-12,2.9e-12],[10.5,2.3e-12,1.9e-12,2.7e-12],[10.9,2.2e-12,1.8e-12,2.6e-12],[11.4,1.9e-12,1.5e-12,2.3e-12],[11.8,1.65e-12,1.3e-12,2.1e-12],[12.3,1.4e-12,1e-12,1.9e-12],[12.7,1.27e-12,8e-13,1.7e-12],[13.3,1.2e-12,8e-13,1.6e-12],[13.9,1.35e-12,9e-13,1.8e-12]],
 [],[],[],
 [[5.3,1.26e-11,1.1e-11,1.4e-11],[5.6,1.1e-11,9.5e-12,1.25e-11],[6.0,1.0e-11,8.5e-12,1.15e-11],[6.5,9e-12,7.5e-12,1.05e-11],[7.0,8.5e-12,7e-12,1e-11],[7.5,7e-12,5.8e-12,8.5e-12],[8.0,6.7e-12,5.5e-12,8e-12],[8.6,7.3e-12,6e-12,8.7e-12],[9.2,6e-12,5e-12,7.5e-12],[9.8,5.5e-12,4.3e-12,7e-12],[10.6,4.8e-12,3.8e-12,6e-12],[11.3,3.6e-12,2.6e-12,4.8e-12],[12,3e-12,2e-12,4.2e-12],[12.8,2.5e-12,1.5e-12,3.6e-12],[13.5,1.5e-12,8e-13,3e-12],[14.2,2.2e-12,1.2e-12,3.3e-12],[14.8,1.2e-12,5e-13,2.5e-12],[15.3,1.8e-12,2.1e-14,2.8e-12],[15.7,7e-13,2e-13,1.5e-12],[16.2,1.9e-12,1e-12,3e-12],[16.8,1.2e-12,6e-13,2.5e-12],[17.5,3.8e-12,2.5e-12,5e-12]],
 [[5.4,5.4e-12,3.5e-12,7e-12],[5.7,4e-12,2.2e-12,5.5e-12],[6.0,3.8e-12,2.5e-12,5e-12],[6.4,4.2e-12,3e-12,5.5e-12],[6.8,3.4e-12,2.4e-12,4.5e-12],[7.2,3.1e-12,2.2e-12,4e-12],[7.7,2.9e-12,2e-12,3.8e-12],[8.2,2.5e-12,1.8e-12,3.3e-12],[8.8,2.6e-12,1.9e-12,3.3e-12],[9.6,2.2e-12,1.6e-12,2.8e-12],[10.4,1.9e-12,1.4e-12,2.4e-12],[11.3,1.8e-12,1.3e-12,2.3e-12],[12.2,1.5e-12,1e-12,2e-12],[13.2,1.4e-12,9e-13,1.9e-12],[14.3,1.2e-12,8e-13,1.6e-12],[15.5,1.3e-12,9e-13,1.8e-12],[16.7,1.05e-12,6e-13,1.5e-12],[18,1.1e-12,6e-13,1.6e-12],[19.5,9e-13,5e-13,1.3e-12],[20.5,8e-13,1e-13,1.2e-12],[22,8.5e-13,5e-13,1.2e-12],[24,7e-13,4.5e-13,9.5e-13],[26,6.8e-13,4.5e-13,9e-13],[28,6.5e-13,4.5e-13,9e-13],[30,6.2e-13,4.2e-13,8.5e-13],[32,6.5e-13,4.5e-13,9e-13]],
 [],[],[],[],[],[],[],[],[],[],[],[]
];

// ---------------- LAYOUT ----------------
const panelCells = [[0,0],[0,1],[1,0],[1,1],[1,2],[1,3],[2,0],[2,1],[2,2],[2,3],[3,0],[3,1],[3,2],[3,3],[4,0],[4,1],[4,2],[4,3],[5,0],[5,1],[5,2],[5,3],[6,0],[6,1],[6,2],[6,3]];
const labelFrac = [0.105,0.867,0.092,0.84,0.092,0.128,0.904,0.081,0.904,0.081,0.90,0.83,0.905,0.905,0.83,0.08,0.83,0.08,0.122,0.905,0.08,0.14,0.07,0.9,0.07,0.07];
const labelDx = [13,12,13,12,12,12,12,12,12,12,12,12,12,12,12,12,12,12,12,12,12,12,12,12,12,2];
const colX = [49,415,781,1146], rowY = [5,263,521,779,1037,1295,1553];
const FW = 283, FH = 218, ML = 52, MR = 10, MT = 8, MB = 36;
const FONT = "'Liberation Serif','DejaVu Serif',serif";

function decades(lo, hi){const o=[];for(let e=Math.ceil(Math.log10(lo)-1e-9);e<=Math.floor(Math.log10(hi)+1e-9);e++)o.push(10**e);return o;}
function minors(lo, hi){const o=[];for(let e=Math.floor(Math.log10(lo));e<=Math.ceil(Math.log10(hi));e++)for(let m=2;m<=9;m++){const v=m*10**e;if(v>=lo*0.999&&v<=hi*1.001)o.push(v);}return o;}
const pow10 = v => {const e=Math.round(Math.log10(v));return "10^{"+(e<0?"−"+(-e):e)+"}";};
const triDown = {draw(ctx,size){const s=Math.sqrt(size/Math.PI);ctx.moveTo(-s,-0.8*s);ctx.lineTo(s,-0.8*s);ctx.lineTo(0,0.95*s);ctx.closePath();}};

function richify(el){
  const s = el.textContent;
  if(!/[\^_]\{/.test(s)) return;
  const base = parseFloat(getComputedStyle(el).fontSize) || 13;
  while(el.firstChild) el.removeChild(el.firstChild);
  let off = 0, last = 0, m;
  const re = /([\^_])\{([^}]*)\}/g;
  const add = (txt, shift, small) => {
    const t = document.createElementNS("http://www.w3.org/2000/svg","tspan");
    t.textContent = txt;
    const d = shift - off; if (d) t.setAttribute("dy", d.toFixed(2));
    if (small) t.setAttribute("font-size", (base*0.7).toFixed(1));
    off = shift; el.appendChild(t);
  };
  while((m = re.exec(s))){
    if(m.index > last) add(s.slice(last, m.index), 0, false);
    add(m[2], m[1] === "^" ? -base*0.45 : base*0.28, true);
    last = re.lastIndex;
  }
  if(last < s.length) add(s.slice(last), 0, false);
}

const xMinor = minors(xDomain[0], xDomain[1]);

panelLabels.forEach((lab, i) => {
  const [r, c] = panelCells[i];
  const [y0, y1] = yDomains[i];
  const yMaj = decades(y0, y1), yMin = minors(y0, y1);
  const spec = spectra[i].map(([l,f,lo,hi]) => ({l,f,lo,hi}));
  const mod = models[i].map(([l,f]) => ({l,f}));
  const ph = photometry[i].map(([l,f]) => ({l,f}));
  const er = photErrors[i].map(([l,lo,hi]) => ({l,lo,hi}));
  const op = openPoints[i].map(([l,f]) => ({l,f}));
  const ul = upperLimits[i].map(([l,f]) => ({l,f}));
  const svg = Plot.plot({
    width: FW+ML+MR, height: FH+MT+MB,
    marginLeft: ML, marginRight: MR, marginTop: MT, marginBottom: MB,
    style: {fontFamily: FONT, fontSize: "13px", color: "black", background: "transparent", overflow: "visible"},
    x: {type: "log", domain: xDomain},
    y: {type: "log", domain: [y0, y1]},
    marks: [
      Plot.ruleX(spec, {x: "l", y1: "lo", y2: "hi", stroke: "#00ffff", strokeWidth: 1.4, clip: true}),
      Plot.line(spec, {x: "l", y: "f", stroke: "black", strokeWidth: 1.9, clip: true}),
      Plot.line(mod, {x: "l", y: "f", stroke: "#008000", strokeWidth: 1.25, strokeDasharray: "1.2,1.8", clip: true}),
      Plot.ruleX(er, {x: "l", y1: "lo", y2: "hi", stroke: "#0000ff", strokeWidth: 1.3}),
      Plot.dot(ph, {x: "l", y: "f", r: 3.6, fill: "#0000e0", stroke: "#000040", strokeWidth: 0.7}),
      Plot.dot(op, {x: "l", y: "f", r: 3.4, fill: "white", stroke: "#000060", strokeWidth: 1}),
      Plot.dot(ul, {x: "l", y: "f", r: 3.6, symbol: triDown, fill: "white", stroke: "black", strokeWidth: 1.1}),
      Plot.text([lab], {text: d => d, frameAnchor: "top-left", dx: labelDx[i], dy: labelFrac[i]*FH, textAnchor: "start", lineAnchor: "middle", fontSize: 14, fill: "black"}),
      Plot.axisX(xTicksMajor, {anchor: "bottom", tickSize: 0, tickPadding: 1, tickFormat: pow10, label: null, fontSize: 13}),
      Plot.axisX(xTicksMajor, {anchor: "bottom", tickSize: -6, fill: "none", label: null}),
      Plot.axisX(xMinor, {anchor: "bottom", tickSize: -3, fill: "none", label: null}),
      Plot.axisX(xTicksMajor, {anchor: "top", tickSize: -6, fill: "none", label: null}),
      Plot.axisX(xMinor, {anchor: "top", tickSize: -3, fill: "none", label: null}),
      Plot.axisY(yMaj, {anchor: "left", tickSize: 0, tickPadding: 3, tickFormat: pow10, label: null, fontSize: 13}),
      Plot.axisY(yMaj, {anchor: "left", tickSize: -6, fill: "none", label: null}),
      Plot.axisY(yMin, {anchor: "left", tickSize: -3, fill: "none", label: null}),
      Plot.axisY(yMaj, {anchor: "right", tickSize: -6, fill: "none", label: null}),
      Plot.axisY(yMin, {anchor: "right", tickSize: -3, fill: "none", label: null}),
      Plot.text(["λ (μm)"], {text: d => d, frameAnchor: "bottom", dy: 24, fontSize: 14, fill: "black"}),
      Plot.text(["λF_{λ} (erg cm^{−2} s^{−1})"], {text: d => d, frameAnchor: "left", dx: -36, rotate: -90, fontSize: 14, fill: "black"}),
      Plot.frame({stroke: "black", strokeWidth: 1})
    ]
  });
  svg.style.position = "absolute";
  svg.style.left = (colX[c] - ML) + "px";
  svg.style.top = (rowY[r] - MT) + "px";
  document.body.appendChild(svg);
  svg.querySelectorAll("text").forEach(richify);
});
</script>
</body></html>
